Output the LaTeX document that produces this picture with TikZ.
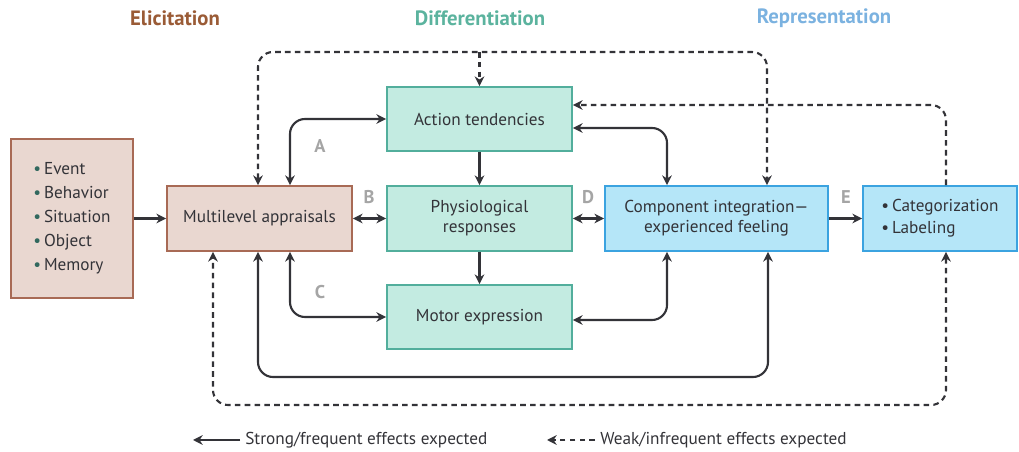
\documentclass[tikz,border=0pt]{standalone}
\usepackage{fontspec}
\setmainfont{PT Sans}
\definecolor{elicbrown}{HTML}{9A5B36}
\definecolor{elicfill}{HTML}{E9D7D0}
\definecolor{elicdraw}{HTML}{A86A55}
\definecolor{diffteal}{HTML}{5BB39E}
\definecolor{difffill}{HTML}{C3EBE1}
\definecolor{diffdraw}{HTML}{52AE9C}
\definecolor{reprblue}{HTML}{7BB2E0}
\definecolor{reprfill}{HTML}{B5E6F8}
\definecolor{reprdraw}{HTML}{3BA3E0}
\definecolor{arrowdark}{HTML}{333338}
\definecolor{lblgray}{HTML}{A5A5A5}
\usetikzlibrary{arrows.meta,positioning,calc}

\begin{document}
\begin{tikzpicture}[x=0.02cm, y=-0.02cm, font=\fontsize{9.8}{11.5}\selectfont, text=arrowdark,
    elicbox/.style={rectangle, draw=elicdraw, fill=elicfill, line width=1.1pt, inner sep=0pt, align=center},
    diffbox/.style={rectangle, draw=diffdraw, fill=difffill, line width=1.1pt, inner sep=0pt, align=center, minimum width=3.7cm, minimum height=1.28cm},
    reprbox/.style={rectangle, draw=reprdraw, fill=reprfill, line width=1.1pt, inner sep=0pt, minimum height=1.3cm},
    strong/.style={draw=arrowdark, line width=1.2pt, rounded corners=0.3cm, arrows={-{Stealth[length=5.5pt,width=5.5pt]}}},
    weak/.style={strong, dash pattern=on 3.2pt off 2.4pt},
    both/.style={arrows={{Stealth[length=5.5pt,width=5.5pt]}-{Stealth[length=5.5pt,width=5.5pt]}}},
    lbl/.style={text=lblgray, font=\fontsize{10.5}{12}\selectfont\bfseries},
    head/.style={font=\fontsize{11.8}{13}\selectfont\bfseries}]
    \useasboundingbox (0,0) rectangle (1019,452);

    % Headers
    \node[head, text=elicbrown] (hElic) at (175,18) {Elicitation};
    \node[head, text=diffteal] (hDiff) at (480,18) {Differentiation};
    \node[head, text=reprblue] (hRepr) at (824,18) {Representation};

    % Elicitation
    \node[elicbox, minimum width=2.44cm, minimum height=3.18cm, align=left, font=\fontsize{9.8}{13.6}\selectfont] (stim) at (72,218.5)
        {\textcolor{diffdraw!60!black}{\textbullet}\,Event\\ \textcolor{diffdraw!60!black}{\textbullet}\,Behavior\\ \textcolor{diffdraw!60!black}{\textbullet}\,Situation\\ \textcolor{diffdraw!60!black}{\textbullet}\,Object\\ \textcolor{diffdraw!60!black}{\textbullet}\,Memory};
    \node[elicbox, minimum width=3.7cm, minimum height=1.3cm] (appr) at (259.5,218.5) {Multilevel appraisals};

    % Differentiation
    \node[diffbox] (act) at (479.5,119) {Action tendencies};
    \node[diffbox, minimum height=1.3cm] (phys) at (479.5,218.5) {Physiological\\ responses};
    \node[diffbox] (mot) at (479.5,317) {Motor expression};

    % Representation
    \node[reprbox, minimum width=4.46cm, align=center] (comp) at (716.5,218.5) {Component integration---\\ experienced feeling};
    \node[reprbox, minimum width=3.08cm, align=left, font=\fontsize{9.8}{12.5}\selectfont] (cat) at (940,218.5)
        {\textcolor{arrowdark}{\textbullet}\,Categorization\\ \textcolor{arrowdark}{\textbullet}\,Labeling};

    % Solid connectors
    \draw[strong] (stim) -- (appr);
    \draw[strong, both] ([xshift=0.61cm]appr.north) |- (act.west);
    \draw[strong, both] (appr) -- (phys);
    \draw[strong, both] ([xshift=0.61cm]appr.south) |- (mot.west);
    \draw[strong] (act) -- (phys);
    \draw[strong] (phys) -- (mot);
    \draw[strong, both] (phys) -- (comp);
    \draw[strong, both] ([yshift=-0.18cm]act.east) -| ([xshift=-0.99cm]comp.north);
    \draw[strong, both] ([yshift=-0.06cm]mot.east) -| ([xshift=-0.99cm]comp.south);
    \draw[strong] (comp) -- (cat);
    \coordinate (loopIn) at (500,377);
    \draw[strong, both] ([xshift=1.03cm]comp.south) |- (loopIn) -| ([xshift=-0.03cm]appr.south);

    % Dashed connectors
    \coordinate (loopTop) at (479.5,52);
    \draw[weak, both] ([xshift=-0.03cm]appr.north) |- (loopTop) -| ([xshift=1.01cm]comp.north);
    \draw[weak] (loopTop) -- (act.north);
    \draw[weak] ([xshift=0.12cm]cat.north) |- ([yshift=0.28cm]act.east);
    \coordinate (loopOut) at (600,405);
    \draw[weak, both] ([xshift=0.12cm]cat.south) |- (loopOut) -| ([xshift=-0.93cm]appr.south);

    % Letters
    \node[lbl] (lA) at (320,146) {A};
    \node[lbl] (lB) at (369,197) {B};
    \node[lbl] (lC) at (320,292) {C};
    \node[lbl] (lD) at (588,197) {D};
    \node[lbl] (lE) at (846,197) {E};

    % Legend
    \node[anchor=west, inner sep=0pt] (legStrong) at (245,440) {Strong/frequent effects expected};
    \coordinate (legStrongEnd) at (193,440);
    \draw[strong] ([xshift=-0.1cm]legStrong.west) -- (legStrongEnd);
    \node[anchor=west, inner sep=0pt] (legWeak) at (600,440) {Weak/infrequent effects expected};
    \coordinate (legWeakEnd) at (547,440);
    \draw[weak] ([xshift=-0.1cm]legWeak.west) -- (legWeakEnd);
\end{tikzpicture}
\end{document}
